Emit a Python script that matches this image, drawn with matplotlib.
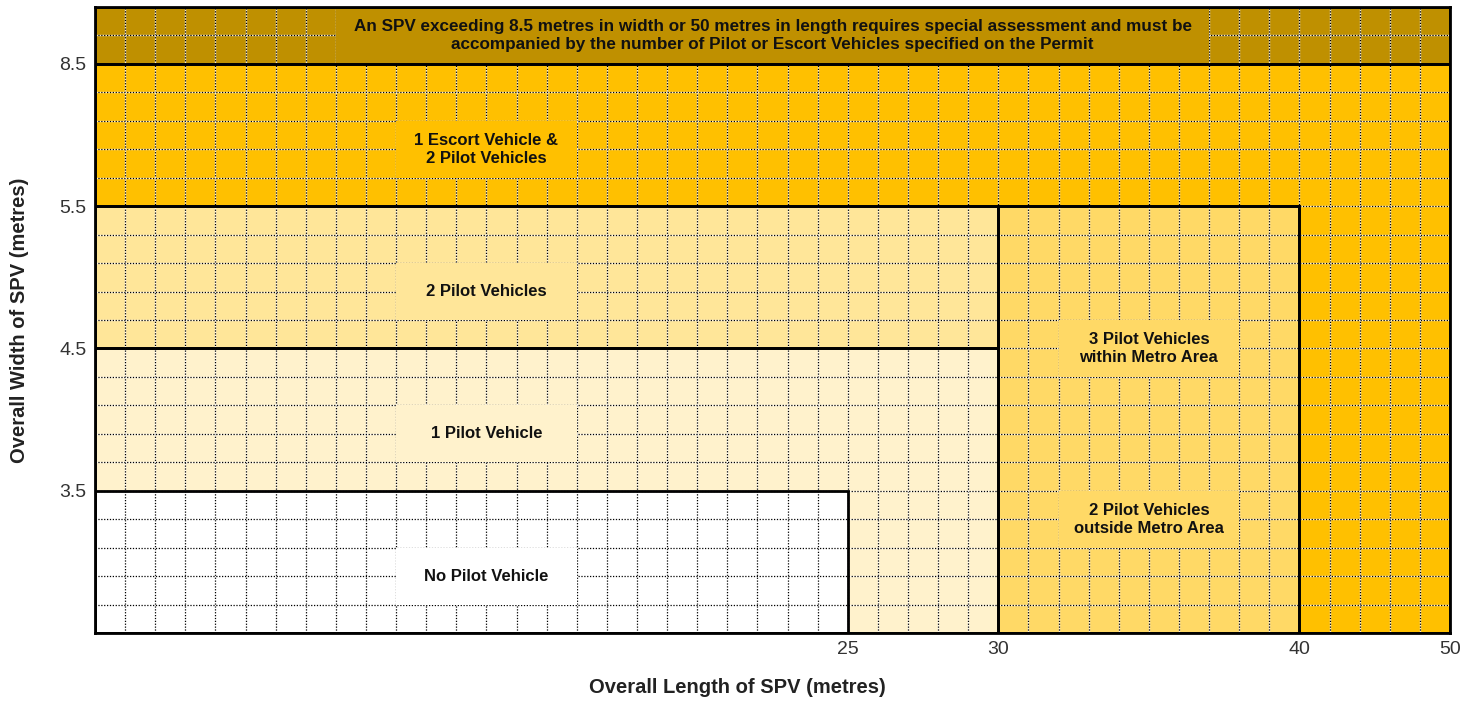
#!/usr/bin/env python3

import numpy as np
import matplotlib
matplotlib.use('Agg')
import matplotlib.pyplot as plt
from matplotlib.patches import Polygon

plt.rcParams['font.family'] = ['Liberation Sans', 'DejaVu Sans']

# tick values (metres)
length_ticks = [25, 30, 40, 50]
width_ticks = [3.5, 4.5, 5.5, 8.5]

# axis breakpoints: metres -> grid cells (the chart is drawn on an even grid)
length_m = [0, 40, 50]
length_cells = [0, 40, 45]
width_m = [0, 3.5, 4.5, 5.5, 8.5, 9.5]
width_cells = [0, 5, 10, 15, 20, 22]

# zones as outlines in metres (length, width)
zone_names = ['special', 'escort', 'metro', 'two_pilot', 'one_pilot', 'none']
zone_shapes = [
    [(0, 8.5), (50, 8.5), (50, 9.5), (0, 9.5)],
    [(0, 5.5), (40, 5.5), (40, 0), (50, 0), (50, 8.5), (0, 8.5)],
    [(30, 0), (40, 0), (40, 5.5), (30, 5.5)],
    [(0, 4.5), (30, 4.5), (30, 5.5), (0, 5.5)],
    [(0, 0), (30, 0), (30, 4.5), (0, 4.5)],
    [(0, 0), (25, 0), (25, 3.5), (0, 3.5)],
]
zone_colours = ['#BF9000', '#FFC000', '#FFD966', '#FFE699', '#FFF2CC', '#FFFFFF']

# labels: text, position (metres), zone colour index
label_texts = [
    'An SPV exceeding 8.5 metres in width or 50 metres in length requires special assessment and must be\n'
    'accompanied by the number of Pilot or Escort Vehicles specified on the Permit',
    '1 Escort Vehicle &\n2 Pilot Vehicles',
    '2 Pilot Vehicles',
    '1 Pilot Vehicle',
    'No Pilot Vehicle',
    '3 Pilot Vehicles\nwithin Metro Area',
    '2 Pilot Vehicles\noutside Metro Area',
]
label_x = [22.5, 13, 13, 13, 13, 35, 35]
label_y = [9.0, 6.7, 4.9, 3.9, 1.4, 4.5, 2.8]
label_zone = [0, 1, 3, 4, 5, 2, 2]


def piecewise(xp, fp):
    xp = np.asarray(xp, float)
    fp = np.asarray(fp, float)
    # extend linearly beyond the ends
    s0 = (fp[1] - fp[0]) / (xp[1] - xp[0])
    s1 = (fp[-1] - fp[-2]) / (xp[-1] - xp[-2])
    xe = np.concatenate([[xp[0] - 1000], xp, [xp[-1] + 1000]])
    fe = np.concatenate([[fp[0] - 1000 * s0], fp, [fp[-1] + 1000 * s1]])
    return lambda v: np.interp(v, xe, fe)


fx = piecewise(length_m, length_cells)
ix = piecewise(length_cells, length_m)
fy = piecewise(width_m, width_cells)
iy = piecewise(width_cells, width_m)

fig = plt.figure(figsize=(14.79, 7.04), dpi=100)
ax = fig.add_axes([95 / 1479, 71 / 704, 1355 / 1479, 626 / 704])
ax.set_xscale('function', functions=(fx, ix))
ax.set_yscale('function', functions=(fy, iy))
ax.set_xlim(0, 50)
ax.set_ylim(0, 9.5)

for shape, col in zip(zone_shapes, zone_colours):
    ax.add_patch(Polygon(shape, closed=True, facecolor=col, edgecolor='none', zorder=1))

# dotted grid, one line per cell
gx = ix(np.arange(1, 45))
gy = iy(np.arange(1, 22))
for xs in gx:
    ax.plot([xs, xs], [0, 9.5], color='white', lw=1.0, alpha=0.8, zorder=2)
    ax.plot([xs, xs], [0, 9.5], color='black', lw=0.9, ls=(0, (1, 1.3)), zorder=2)
for ys in gy:
    ax.plot([0, 50], [ys, ys], color='white', lw=1.0, alpha=0.8, zorder=2)
    ax.plot([0, 50], [ys, ys], color='black', lw=0.9, ls=(0, (1, 1.3)), zorder=2)

for shape in zone_shapes:
    ax.add_patch(Polygon(shape, closed=True, facecolor='none', edgecolor='black', lw=2, zorder=3))

# label backgrounds cover whole grid cells
for i, (t, x, y, z) in enumerate(zip(label_texts, label_x, label_y, label_zone)):
    cx, cy = float(fx(x)), float(fy(y))
    half_w = 14.5 if i == 0 else 3
    x0, x1 = ix(cx - half_w), ix(cx + half_w)
    y0, y1 = iy(cy - 1), iy(cy + 1)
    ax.add_patch(Polygon([(x0, y0), (x1, y0), (x1, y1), (x0, y1)], closed=True,
                         facecolor=zone_colours[z], edgecolor='none', zorder=2.5))
    ax.text(x, y, t, ha='center', va='center', fontsize=12.3 if i == 0 else 12,
            fontweight='bold', linespacing=1.22, zorder=4, color='#111111')

ax.set_xticks(length_ticks)
ax.set_xticklabels([str(v) for v in length_ticks])
ax.set_yticks(width_ticks)
ax.set_yticklabels([str(v) for v in width_ticks])
ax.minorticks_off()
ax.tick_params(length=0, labelsize=14, pad=6, colors='#333333')

for sp in ax.spines.values():
    sp.set_linewidth(2)
    sp.set_zorder(5)

ax.set_xlabel('Overall Length of SPV (metres)', fontsize=14.5, fontweight='bold', color='#222222')
ax.xaxis.set_label_coords(0.474, -0.072)
ax.set_ylabel('Overall Width of SPV (metres)', fontsize=14.5, fontweight='bold', color='#222222')
ax.yaxis.set_label_coords(-0.049, 0.5)

fig.savefig('out.png', dpi=100)
